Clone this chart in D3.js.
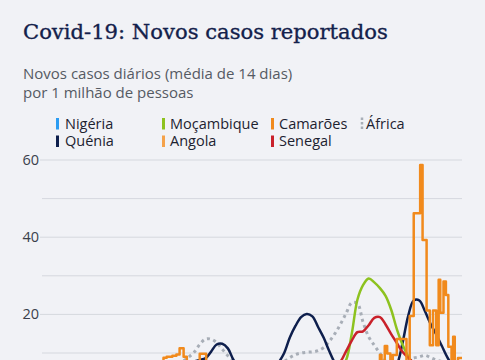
<!DOCTYPE html>
<html>
<head>
<meta charset="utf-8">
<script src="https://cdn.jsdelivr.net/npm/d3@7"></script>
<style>
  html, body { margin: 0; padding: 0; background: #f1f2f6; overflow: hidden; }
  svg { display: block; }
</style>
</head>
<body>
<svg id="chart" width="485" height="360"></svg>
<script>
// ---------- DATA ----------
const title = "Covid-19: Novos casos reportados";
const subtitleLines = ["Novos casos diários (média de 14 dias)", "por 1 milhão de pessoas"];
const yTicks = [10, 20, 30, 40, 50, 60];
const yTickLabels = ["", "20", "", "40", "", "60"];

// weekly sampling dates (every 7 days from 2020-01-01)
const weekStart = "2020-01-01";
const weekCount = 75;

const nigeria = [0,0,0,0,0,0,0,0,0,0.01,0.01,0.02,0.05,0.1,0.2,0.4,0.8,1.0,1.2,1.5,1.6,1.8,2.1,2.5,2.8,2.8,2.7,2.7,2.5,2.3,2.1,1.9,1.5,1.0,0.8,0.7,0.7,0.6,0.6,0.8,0.8,0.7,0.7,0.8,0.9,1.0,1.3,1.5,2.2,3.2,3.8,4.2,4.8,6.0,6.8,7.2,6.8,5.5,4.2,3.0,2.2,1.5,1.0,0.6,0.5,0.4,0.35,0.3,0.3,0.3,0.25,0.2,0.2,0.2,0.2];
const quenia = [0,0,0,0,0,0,0,0,0,0,0,0.02,0.05,0.1,0.2,0.3,0.4,0.6,0.9,1.2,1.7,2.2,3.0,3.8,4.8,6.0,7.0,7.8,8.2,8.6,10.3,12.2,12.4,11.2,8.2,6.3,4.8,4.0,3.5,3.5,4.2,5.5,7.5,10.0,14.0,17.0,19.3,20.1,19.5,16.8,14.0,10.5,7.5,6.0,5.0,4.3,3.8,3.5,3.3,3.4,3.8,4.5,5.5,7.0,12.5,19.5,23.6,23.6,20.8,17.5,14.8,11.8,8.8,6.5,5.0];
const mocambique = [0,0,0,0,0,0,0,0,0,0,0,0,0,0.02,0.05,0.1,0.1,0.15,0.2,0.3,0.3,0.4,0.5,0.6,0.8,1.0,1.2,1.4,1.6,1.8,2.0,2.4,2.8,3.0,3.4,3.6,3.5,3.6,3.5,3.3,3.2,3.4,3.2,3.0,2.8,2.5,2.2,2.0,2.0,2.3,2.8,3.4,4.5,6.0,8.2,15.0,23.8,27.6,29.3,28.3,26.8,24.8,21.2,16.2,12.2,9.2,7.0,5.5,4.5,3.8,3.3,3.0,2.8,2.6,2.5];
const angola = [0,0,0,0,0,0,0,0,0,0,0,0,0,0.01,0.05,0.05,0.05,0.05,0.05,0.05,0.05,0.1,0.2,0.5,0.8,1.2,1.6,2.0,2.5,2.5,2.2,2.5,3.0,3.5,3.8,4.2,5.0,5.5,6.5,7.2,7.5,7.0,6.5,6.2,6.0,4.8,3.8,2.8,2.5,2.6,2.8,2.5,2.2,2.5,3.0,2.2,2.0,2.0,1.8,1.5,1.6,1.8,2.2,2.8,3.5,4.5,5.5,6.2,6.8,7.2,7.0,6.8,6.5,6.0,5.5];
const senegal = [0,0,0,0,0,0,0,0,0,0,0.05,0.2,0.5,0.8,1.2,1.8,2.5,3.2,4.0,4.5,4.8,5.0,5.5,6.0,6.3,6.5,6.0,6.2,6.5,7.0,7.5,7.8,7.2,6.2,5.0,3.8,3.0,2.4,2.0,1.6,1.3,1.1,1.0,1.0,1.1,1.3,1.6,2.0,2.6,3.2,4.0,5.2,6.5,7.8,10.5,13.2,15.4,15.6,17.2,19.1,19.3,17.4,14.9,12.6,10.3,8.8,7.5,6.5,5.8,5.0,4.5,4.0,3.6,3.3,3.0];
const africa = [0,0,0,0,0,0,0,0,0.01,0.02,0.05,0.1,0.2,0.4,0.6,0.8,1.0,1.3,1.7,2.1,2.7,3.4,4.3,5.4,6.6,7.8,8.9,10.2,12.2,13.6,13.6,12.7,11.0,9.3,8.0,7.0,6.2,5.7,5.5,5.6,6.0,6.6,7.3,7.8,8.8,9.6,10.0,10.2,10.3,10.6,11.4,13.0,15.0,17.5,20.3,23.0,22.8,18.0,14.2,12.0,9.9,8.0,7.6,7.3,7.6,8.2,8.7,9.0,9.4,8.8,8.2,7.8,7.5,7.3,7.2];

// Camarões: irregular reporting, drawn as steps
const camaroesDates = ["2020-01-01","2020-03-19","2020-04-04","2020-04-19","2020-05-02","2020-05-14","2020-05-23","2020-05-31","2020-06-04","2020-06-11","2020-06-16","2020-06-20","2020-06-25","2020-06-29","2020-07-07","2020-07-15","2020-07-23","2020-07-30","2020-08-12","2020-08-28","2020-09-16","2020-10-04","2020-10-29","2020-11-23","2020-12-12","2020-12-30","2021-01-18","2021-01-30","2021-02-08","2021-02-17","2021-02-24","2021-02-26","2021-03-02","2021-03-05","2021-03-09","2021-03-12","2021-03-17","2021-03-29","2021-04-02","2021-04-07","2021-04-15","2021-04-18","2021-04-23","2021-04-27","2021-05-01","2021-05-05","2021-05-08","2021-05-10","2021-05-14","2021-05-17","2021-05-20","2021-05-24","2021-05-26","2021-05-28","2021-06-01","2021-06-06"];
const camaroes = [0,0.3,1.5,3.5,5.0,6.5,7.5,8.8,9.0,9.3,9.6,11.2,9.0,6.5,7.5,9.8,6.0,4.5,3.0,2.0,1.5,1.2,1.0,1.5,2.0,2.5,3.5,4.5,5.5,7.0,9.5,7.5,11.8,9.9,8.0,9.5,13.6,7.0,19.6,46.2,58.7,39.3,21.0,12.0,21.0,12.0,29.0,20.4,28.5,25.0,11.6,8.0,14.2,7.0,8.7,8.7];

const legendItems = [
  {name: "Nigéria",    color: "#2b9cf2", dotted: false, col: 0, row: 0},
  {name: "Quénia",     color: "#0e1f4d", dotted: false, col: 0, row: 1},
  {name: "Moçambique", color: "#8dc21f", dotted: false, col: 1, row: 0},
  {name: "Angola",     color: "#f5a24a", dotted: false, col: 1, row: 1},
  {name: "Camarões",   color: "#f18a1c", dotted: false, col: 2, row: 0},
  {name: "Senegal",    color: "#c9212b", dotted: false, col: 2, row: 1},
  {name: "África",     color: "#a8aeb7", dotted: true,  col: 3, row: 0}
];

// ---------- LAYOUT ----------
const svg = d3.select("#chart");
const W = 485, H = 360;
const plot = {left: 42, right: 462, top: 160, bottom: 391.6};
const parse = d3.timeParse("%Y-%m-%d");
const start = parse(weekStart);
const weeks = d3.range(weekCount).map(i => d3.timeDay.offset(start, 7 * i));

const x = d3.scaleTime()
  .domain([parse("2020-01-01"), parse("2021-06-06")])
  .range([plot.left, plot.right]);
const y = d3.scaleLinear().domain([0, 60]).range([plot.bottom, plot.top]);

svg.append("rect").attr("width", W).attr("height", H).attr("fill", "#f1f2f6");

// Title
svg.append("text")
  .attr("x", 23).attr("y", 39)
  .attr("font-family", "'DejaVu Serif', serif")
  .attr("font-weight", "normal")
  .attr("font-size", 22)
  .attr("fill", "#13214b")
  .attr("stroke", "#13214b").attr("stroke-width", 0.35)
  .text(title)
  .each(function() {
    const w = this.getComputedTextLength();
    const target = 365;
    d3.select(this).attr("font-size", 22 * target / w);
  });

// Subtitle
subtitleLines.forEach((t, i) => {
  svg.append("text")
    .attr("x", 23).attr("y", 79 + i * 18.5)
    .attr("font-family", "'Open Sans', sans-serif")
    .attr("font-size", 15)
    .attr("fill", "#555a63")
    .text(t);
});

// Legend
const colX = [{sw: 57.5, tx: 65}, {sw: 163.5, tx: 170}, {sw: 272.5, tx: 279}, {sw: 362, tx: 366}];
const rowY = [128.5, 146];
const lg = svg.append("g");
legendItems.forEach(d => {
  const cx = colX[d.col], by = rowY[d.row];
  if (d.dotted) {
    lg.append("line")
      .attr("x1", cx.sw).attr("x2", cx.sw)
      .attr("y1", by - 11).attr("y2", by + 1)
      .attr("stroke", d.color).attr("stroke-width", 2.5)
      .attr("stroke-dasharray", "2.5,2");
  } else {
    lg.append("rect")
      .attr("x", cx.sw - 1.5).attr("y", by - 10.5)
      .attr("width", 3).attr("height", 11.5)
      .attr("fill", d.color);
  }
  lg.append("text")
    .attr("x", cx.tx).attr("y", by)
    .attr("font-family", "'Open Sans', sans-serif")
    .attr("font-size", 14.5)
    .attr("fill", "#1d2230")
    .text(d.name);
});

// Gridlines + y labels (axis continues below the visible area)
const grid = svg.append("g");
yTicks.forEach((t, i) => {
  const lab = yTickLabels[i];
  grid.append("line")
    .attr("x1", lab ? 40 : plot.left).attr("x2", plot.right)
    .attr("y1", y(t)).attr("y2", y(t))
    .attr("stroke", "#d5d8de").attr("stroke-width", 1);
  if (lab) {
    grid.append("text")
      .attr("x", 39).attr("y", y(t)).attr("dy", "0.35em")
      .attr("text-anchor", "end")
      .attr("font-family", "'Open Sans', sans-serif")
      .attr("font-size", 14.5)
      .attr("fill", "#3a3f4b")
      .text(lab);
  }
});

// Lines
const smooth = d3.line().x(d => x(d[0])).y(d => y(d[1])).curve(d3.curveCatmullRom.alpha(0.5));
const step = d3.line().x(d => x(d[0])).y(d => y(d[1])).curve(d3.curveStepAfter);
const color = Object.fromEntries(legendItems.map(d => [d.name, d.color]));
const series = (vals) => weeks.map((w, i) => [w, vals[i]]);

const lines = svg.append("g");
lines.append("path").attr("d", smooth(series(africa)))
  .attr("fill", "none").attr("stroke", color["África"]).attr("stroke-width", 3)
  .attr("stroke-dasharray", "3,3.5");
lines.append("path").attr("d", smooth(series(nigeria)))
  .attr("fill", "none").attr("stroke", color["Nigéria"]).attr("stroke-width", 2.5);
lines.append("path").attr("d", smooth(series(angola)))
  .attr("fill", "none").attr("stroke", color["Angola"]).attr("stroke-width", 2.5);
lines.append("path").attr("d", smooth(series(quenia)))
  .attr("fill", "none").attr("stroke", color["Quénia"]).attr("stroke-width", 2.5).attr("stroke-linejoin", "round");
lines.append("path").attr("d", smooth(series(mocambique)))
  .attr("fill", "none").attr("stroke", color["Moçambique"]).attr("stroke-width", 2.5).attr("stroke-linejoin", "round");
lines.append("path").attr("d", smooth(series(senegal)))
  .attr("fill", "none").attr("stroke", color["Senegal"]).attr("stroke-width", 2.5).attr("stroke-linejoin", "round");
lines.append("path").attr("d", step(camaroesDates.map((d, i) => [parse(d), camaroes[i]])))
  .attr("fill", "none").attr("stroke", color["Camarões"]).attr("stroke-width", 2.5).attr("stroke-linejoin", "round");
</script>
</body>
</html>
